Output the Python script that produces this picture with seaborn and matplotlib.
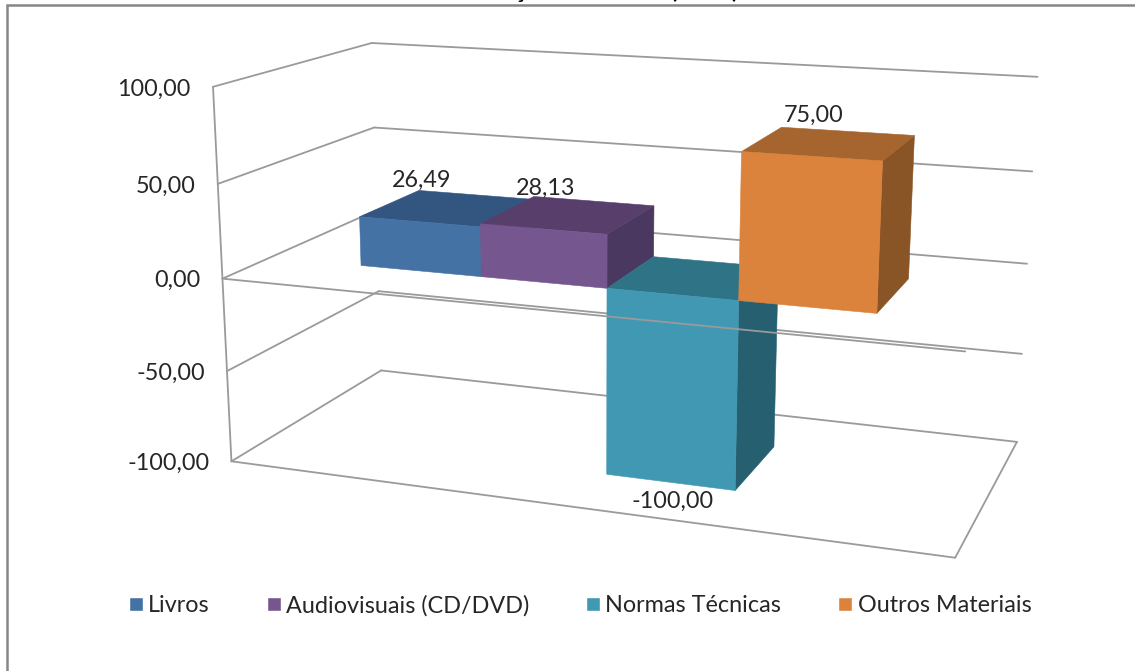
import numpy as np
import pandas as pd
import matplotlib
matplotlib.use("Agg")
import matplotlib.pyplot as plt
from matplotlib.patches import Polygon
import seaborn as sns

# ---- data ----
categories = ["Livros", "Audiovisuais (CD/DVD)", "Normas Técnicas", "Outros Materiais"]
values = [26.49, 28.13, -100.00, 75.00]
value_labels = ["26,49", "28,13", "-100,00", "75,00"]
axis_ticks = [100, 50, 0, -50, -100]
axis_tick_labels = ["100,00", "50,00", "0,00", "-50,00", "-100,00"]
title_text = "Variação do Acervo (2014)"

front_colors = ["#4472A5", "#75568F", "#4198B3", "#DB833C"]
top_colors = ["#335680", "#583F6B", "#2F7486", "#A6652E"]
side_colors = ["#2C4A6E", "#4A3860", "#266070", "#8A5526"]

sns.set_theme(style="white")
plt.rcParams["font.family"] = ["Lato", "DejaVu Sans"]
TEXT = "#262626"
FS = 16.8

fig = plt.figure(figsize=(11.35, 6.71), dpi=100, facecolor="white")

# Seaborn lays out the bars on its own categorical scale; this flat chart is then
# carried through a perspective camera to give the 3-D look of the original.
src = fig.add_axes([0, 0, 1, 1])
df = pd.DataFrame({"cat": categories, "val": values})
sns.barplot(data=df, x="cat", y="val", hue="cat", palette=front_colors, saturation=1,
            width=1.0, dodge=False, legend=True, ax=src)
handles, labels = src.get_legend_handles_labels()
src.get_legend().remove()
rects = [(p.get_x(), p.get_x() + p.get_width(), p.get_height())
         for c in src.containers for p in c if p.get_width() > 0]
src.set_visible(False)

ax = fig.add_axes([0, 0, 1, 1])
ax.set_xlim(0, 1135)
ax.set_ylim(671, 0)
ax.axis("off")

# ---- camera calibrated from the frame of the chart box (u, value, depth) -> pixel ----
calib = [
    (0, 100, 0, 212, 87), (0, 50, 0, 218, 183), (0, 0, 0, 222, 278), (0, -50, 0, 228, 371), (0, -100, 0, 232, 462),
    (0, 100, 1, 372, 43), (0, 50, 1, 375, 128), (0, 0, 1, 377, 210), (0, -50, 1, 378, 292), (0, -100, 1, 380, 370),
    (1, 100, 1, 1037, 76), (1, 50, 1, 1032, 172), (1, 0, 1, 1028, 265), (1, -50, 1, 1022, 353), (1, -100, 1, 1017, 441),
    (1, -100, 0, 955, 558), (1, 0, 0, 965, 352),
]
A = []
b = []
for u, v, d, px, py in calib:
    w = v / 100.0
    A.append([u, w, d, 1, 0, 0, 0, 0, -px * u, -px * w, -px * d]); b.append(px)
    A.append([0, 0, 0, 0, u, w, d, 1, -py * u, -py * w, -py * d]); b.append(py)
P = np.linalg.lstsq(np.array(A, float), np.array(b, float), rcond=None)[0]
P = np.append(P, 1.0).reshape(3, 4)


def proj(u, v, d):
    q = P @ np.array([u, v / 100.0, d, 1.0])
    return q[0] / q[2], q[1] / q[2]


LINE = "#9A9A9A"


def seg(a, b, z=1):
    (x0, y0), (x1, y1) = proj(*a), proj(*b)
    ax.plot([x0, x1], [y0, y1], color=LINE, lw=1.3, zorder=z, solid_capstyle="round")


# walls and floor
for t in axis_ticks:
    seg((0, t, 0), (0, t, 1))
    seg((0, t, 1), (1, t, 1))
seg((0, 100, 0), (0, -100, 0))
seg((0, -100, 0), (1, -100, 0))
seg((1, -100, 0), (1, -100, 1))

for t, lab in zip(axis_ticks, axis_tick_labels):
    x, y = proj(0, t, 0)
    ax.annotate(lab, (x, y), xytext=(-16, -1.5), textcoords="offset points",
                ha="right", va="center", fontsize=FS, color=TEXT)

# ---- bars ----
GAP_U = 0.78
SPAN = 5.53
D0, D1 = 0.285, 0.695


def U(x):
    return (x + 0.5 + GAP_U) / SPAN


z = 3
for i, (x0, x1, h) in enumerate(rects):
    u0, u1 = U(x0), U(x1)
    top = max(h, 0)
    bot = min(h, 0)
    if i == len(rects) - 1:
        seg((0, 0, 0), (1, 0, 0), z=z)
        z += 1
    faces = [
        ([(u1, top, D0), (u1, top, D1), (u1, bot, D1), (u1, bot, D0)], side_colors[i]),
        ([(u0, top, D0), (u1, top, D0), (u1, top, D1), (u0, top, D1)], top_colors[i]),
        ([(u0, top, D0), (u1, top, D0), (u1, bot, D0), (u0, bot, D0)], front_colors[i]),
    ]
    for pts, col in faces:
        ax.add_patch(Polygon([proj(*p) for p in pts], closed=True, facecolor=col,
                             edgecolor=col, lw=0.4, zorder=z))
        z += 1
    uc = (u0 + u1) / 2
    lx, ly = proj(uc, h, D0)
    off = (2, 29.5) if h >= 0 else (2, -14)
    ax.annotate(value_labels[i], (lx, ly), xytext=off, textcoords="offset points",
                ha="center", va="center", fontsize=FS, color=TEXT, zorder=50)

# ---- chart frame, clipped title, legend ----
ax.plot([7, 7, 1135], [671, 5, 5], color="#868686", lw=1.8, zorder=60, solid_joinstyle="miter")
ax.text(739, -1.5, title_text, ha="right", va="baseline", fontsize=17,
        fontweight="bold", color="black", zorder=40)

leg = ax.legend(handles, labels, loc="center", bbox_to_anchor=(580 / 1135, 1 - 605.5 / 671),
                bbox_transform=fig.transFigure, ncol=4, frameon=False, fontsize=FS,
                handlelength=0.6, handleheight=0.6, handletextpad=0.22, columnspacing=2.45,
                labelcolor=TEXT)

fig.savefig("out.png", dpi=100, facecolor="white")
